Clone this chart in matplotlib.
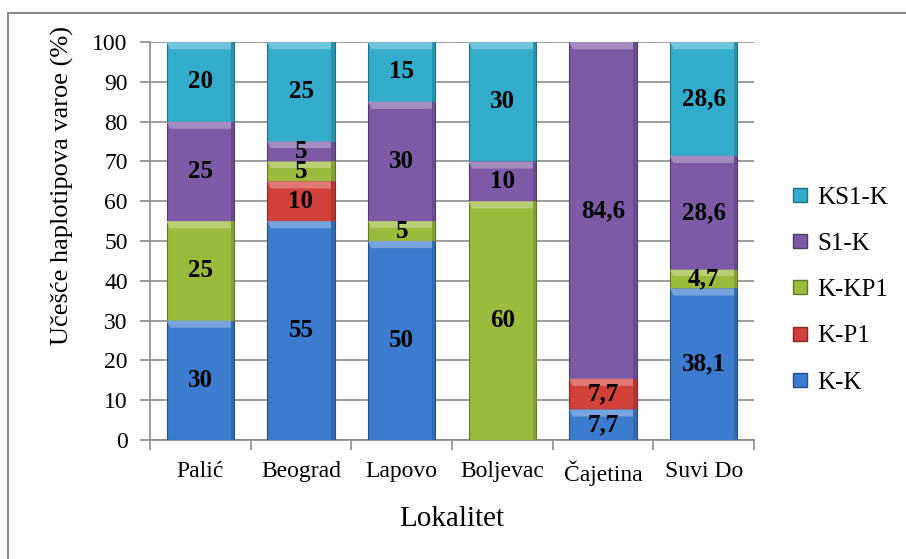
import matplotlib
matplotlib.use('Agg')
import matplotlib.pyplot as plt
import matplotlib.colors as mcolors
from matplotlib.patches import Rectangle, Polygon
from matplotlib.lines import Line2D
import numpy as np

# podaci
lokaliteti = ['Palić', 'Beograd', 'Lapovo', 'Boljevac', 'Čajetina', 'Suvi Do']
serije = ['K-K', 'K-P1', 'K-KP1', 'S1-K', 'KS1-K']
kk = [30, 55, 50, 0, 7.7, 38.1]
kp1 = [0, 10, 0, 0, 7.7, 0]
kkp1 = [25, 5, 5, 60, 0, 4.7]
s1k = [25, 5, 30, 10, 84.6, 28.6]
ks1k = [20, 25, 15, 30, 0, 28.6]
vrednosti = [kk, kp1, kkp1, s1k, ks1k]
boje = ['#3b7cce', '#d2403a', '#9bbb3c', '#7d5aa5', '#33abcb']

plt.rcParams['font.family'] = ['Liberation Serif', 'DejaVu Serif']

fig = plt.figure(figsize=(9.06, 5.59), dpi=100)
ax = fig.add_axes([150 / 906, 1 - 440 / 559, 604 / 906, 398 / 559])

# okvir oko grafikona
fig.patches.append(Rectangle((8 / 906, -0.1), 1.1, 1 - 13 / 559 + 0.1,
                             transform=fig.transFigure, fill=False,
                             edgecolor='#8c8c8c', linewidth=1.5))

x = np.arange(len(lokaliteti))
sirina = 0.67
dno = np.zeros(len(lokaliteti))


def svetlija(c, f):
    r, g, b = mcolors.to_rgb(c)
    return (r + (1 - r) * f, g + (1 - g) * f, b + (1 - b) * f)


def tamnija(c, f):
    r, g, b = mcolors.to_rgb(c)
    return (r * (1 - f), g * (1 - f), b * (1 - f))


for vals, boja, ime in zip(vrednosti, boje, serije):
    vals = np.array(vals, dtype=float)
    ax.bar(x, vals, sirina, bottom=dno, color=boja, edgecolor=tamnija(boja, 0.35),
           linewidth=0.8, zorder=3, label=ime)
    for xi, v, b in zip(x, vals, dno):
        if v <= 0:
            continue
        # bevel: svetliji gornji rub
        d = min(1.8, v / 3)
        dx = 0.035
        top = b + v
        ax.add_patch(Polygon([(xi - sirina / 2, top), (xi + sirina / 2, top),
                              (xi + sirina / 2 - dx, top - d), (xi - sirina / 2 + dx, top - d)],
                             closed=True, facecolor=svetlija(boja, 0.3),
                             edgecolor='none', zorder=4))
        # tamniji desni rub
        ax.add_patch(Rectangle((xi + sirina / 2 - dx, b), dx, v,
                               facecolor=tamnija(boja, 0.15), edgecolor='none', zorder=4))
        tekst = f'{v:g}'.replace('.', ',')
        ax.text(xi, b + v / 2, tekst, ha='center', va='center', fontsize=18,
                fontweight='bold', color='black', zorder=5)
    dno += vals

ax.set_xlim(-0.5, len(lokaliteti) - 0.5)
ax.set_ylim(0, 100)
ax.set_yticks(range(0, 101, 10))
ax.set_xticks(x)
ax.set_xticklabels(lokaliteti, fontsize=17)
ax.set_xticks(np.arange(-0.5, len(lokaliteti)), minor=True)
ax.tick_params(axis='x', which='major', length=0, pad=15)
ax.tick_params(axis='x', which='minor', length=7, color='#8c8c8c', width=1.2)
ax.tick_params(axis='y', labelsize=17, length=7, color='#8c8c8c', width=1.2, pad=9)
ax.yaxis.grid(True, color='#8c8c8c', linewidth=1.2, zorder=0)
ax.set_axisbelow(True)
for s in ['top', 'right']:
    ax.spines[s].set_visible(False)
for s in ['left', 'bottom']:
    ax.spines[s].set_color('#8c8c8c')
    ax.spines[s].set_linewidth(1.2)

ax.set_ylabel('Učešće haplotipova varoe (%)', fontsize=19)
ax.yaxis.set_label_coords(-0.125, 0.64)
ax.set_xlabel('Lokalitet', fontsize=21, labelpad=14)

rucke = [Line2D([], [], marker='s', linestyle='none', markersize=9.5,
                markerfacecolor=b, markeredgecolor=tamnija(b, 0.35))
         for b in boje]
ax.legend(rucke[::-1], serije[::-1], loc='center left', bbox_to_anchor=(1.02, 0.377),
          frameon=False, fontsize=18, labelspacing=0.95, handletextpad=0.25,
          handlelength=0.9)

fig.savefig('out.png', dpi=100)
